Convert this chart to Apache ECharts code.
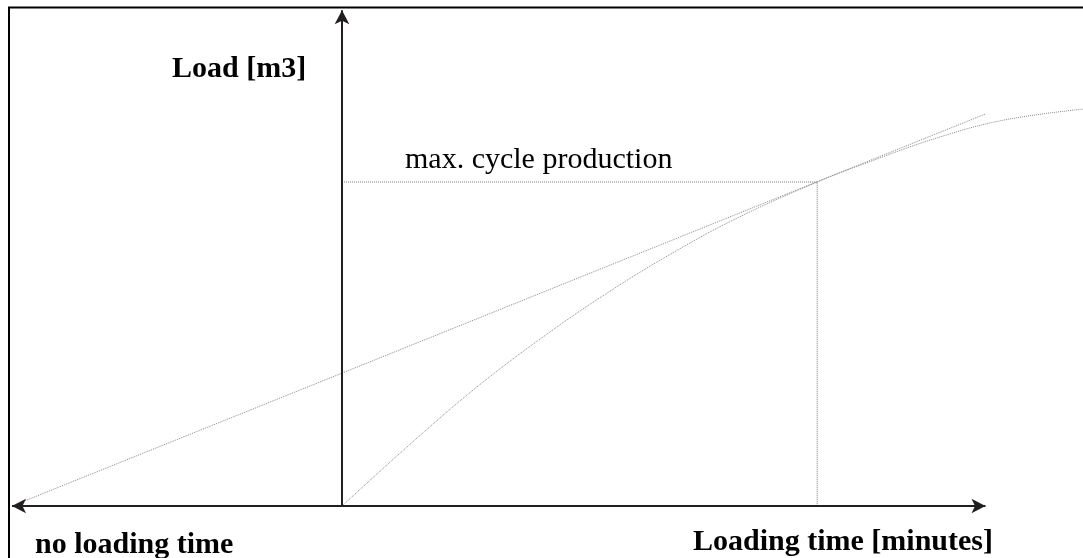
<!DOCTYPE html>
<html>
<head>
<meta charset="utf-8">
<script src="https://cdn.jsdelivr.net/npm/echarts@6/dist/echarts.min.js"></script>
<style>
html,body{margin:0;padding:0;background:#fff;}
#chart{width:1083px;height:558px;}
</style>
</head>
<body>
<div id="chart"></div>
<script>
// ---- data (chart units) ----
const curveX = [0, 2, 4, 6, 8, 10, 12, 14.4, 16, 18, 20, 22.45];
const curveY = [0, 1.85, 3.6, 5.15, 6.55, 7.8, 8.9, 10.0, 10.63, 11.35, 11.9, 12.25];
const tangentX = [-10, 19.5];
const tangentY = [0, 12.1];
const maxProduction = 10;
const optimalTime = 14.4;
const xAxisEnds = [-10, 19.5];
const yAxisTop = 15.3;
const labels = {
  yName: 'Load [m3]',
  xName: 'Loading time [minutes]',
  xLeft: 'no loading time',
  maxLabel: 'max. cycle production'
};

// ---- layout ----
const W = 1083, H = 558, X0 = 342, Y0 = 506, UX = 33, UY = 32.4;
const xMin = -X0 / UX, xMax = (W - X0) / UX;
const yMin = -(H - Y0) / UY, yMax = Y0 / UY;

const curveData = curveX.map((x, i) => [x, curveY[i]]);
const tangentData = tangentX.map((x, i) => [x, tangentY[i]]);
const AXIS = '#231f20';
const serif = '"Liberation Serif", "Times New Roman", serif';

const chart = echarts.init(document.getElementById('chart'), null, {renderer: 'canvas'});
chart.setOption({
  animation: false,
  backgroundColor: '#fff',
  grid: {left: 0, right: 0, top: 0, bottom: 0, containLabel: false},
  xAxis: {type: 'value', min: xMin, max: xMax, show: false},
  yAxis: {type: 'value', min: yMin, max: yMax, show: false},
  series: [
    {
      type: 'line', data: curveData, smooth: 0.4, showSymbol: false, silent: true, clip: false,
      lineStyle: {color: '#8a8a8a', width: 1, type: [1, 1]}
    },
    {
      type: 'line', data: tangentData, showSymbol: false, silent: true,
      lineStyle: {color: '#8a8a8a', width: 1, type: [1, 1]}
    },
    {
      type: 'line', data: [[0, maxProduction], [optimalTime, maxProduction], [optimalTime, 0]],
      showSymbol: false, silent: true,
      lineStyle: {color: '#7a7a7a', width: 1, type: [1, 1]}
    },
    {
      type: 'line', data: [], silent: true,
      markLine: {
        silent: true, animation: false,
        label: {show: false},
        lineStyle: {color: AXIS, width: 2, type: 'solid'},
        symbolSize: [11, 14],
        data: [
          [{coord: [xAxisEnds[0], 0], symbol: 'arrow'}, {coord: [xAxisEnds[1], 0], symbol: 'arrow'}],
          [{coord: [0, 0], symbol: 'none'}, {coord: [0, yAxisTop], symbol: 'arrow'}]
        ]
      }
    }
  ],
  graphic: [
    {type: 'polyline', silent: true, shape: {points: [[9, H], [9, 7.5], [W, 7.5]]},
     style: {stroke: '#000', lineWidth: 2, fill: null}},
    {type: 'text', silent: true, style: {text: labels.yName, x: 172, y: 84, font: 'bold 30px ' + serif, fill: '#000', verticalAlign: 'bottom'}},
    {type: 'text', silent: true, style: {text: labels.maxLabel, x: 405, y: 175, font: '30px ' + serif, fill: '#000', verticalAlign: 'bottom'}},
    {type: 'text', silent: true, style: {text: labels.xLeft, x: 35, y: 560, font: 'bold 30px ' + serif, fill: '#000', verticalAlign: 'bottom'}},
    {type: 'text', silent: true, style: {text: labels.xName, x: 993, y: 557, font: 'bold 30px ' + serif, fill: '#000', align: 'right', verticalAlign: 'bottom'}}
  ]
});
</script>
</body>
</html>
